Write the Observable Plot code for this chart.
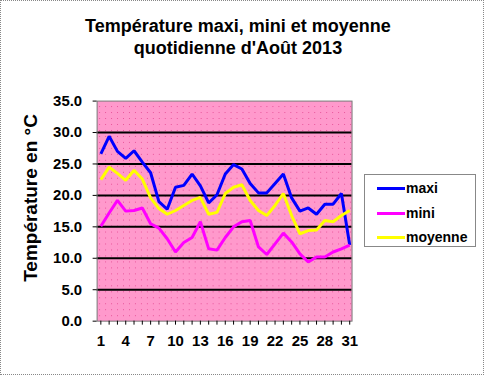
<!DOCTYPE html>
<html>
<head>
<meta charset="utf-8">
<script src="https://cdn.jsdelivr.net/npm/d3@7"></script>
<script src="https://cdn.jsdelivr.net/npm/@observablehq/plot@0.6"></script>
<style>
  html, body { margin: 0; padding: 0; background: #fff; }
  #wrap { position: relative; width: 484px; height: 375px; box-sizing: border-box; border: 1px dotted #888; overflow: hidden; font-family: "Liberation Sans", Arial, sans-serif; }
  #title { position: absolute; left: 0; width: 474px; top: 14px; text-align: center; font-weight: bold; font-size: 18px; line-height: 22px; color: #000; }
  #ylab { position: absolute; left: 30px; top: 197px; transform: translate(-50%, -50%) rotate(-90deg); white-space: nowrap; font-weight: bold; font-size: 19px; color: #000; }
  #legend { position: absolute; left: 363px; top: 173px; width: 112px; height: 73px; box-sizing: border-box; border: 1px solid #888; background: #fff; }
  .item { position: absolute; left: 12px; height: 14px; font-weight: bold; font-size: 14px; line-height: 14px; }
  .item span.sw { position: absolute; left: 0; top: 6px; width: 28px; height: 3px; }
  .item span.tx { position: absolute; left: 29px; top: 0; }
  #chart { position: absolute; left: 0; top: 0; }
</style>
</head>
<body>
<div id="wrap">
  <div id="chart"></div>
  <div id="title">Température maxi, mini et moyenne<br>quotidienne d'Août 2013</div>
  <div id="ylab">Température en °C</div>
  <div id="legend"></div>
</div>
<script>
const days = d3.range(1, 32);
const maxi = [26.6, 29.4, 27.0, 25.9, 27.1, 25.3, 23.6, 19.0, 17.8, 21.3, 21.6, 23.4, 21.5, 18.8, 20.1, 23.4, 24.9, 24.2, 21.9, 20.4, 20.4, 21.9, 23.4, 19.6, 17.5, 18.0, 17.0, 18.6, 18.6, 20.3, 12.1];
const mini = [15.1, 17.2, 19.2, 17.5, 17.6, 18.0, 15.5, 14.8, 13.1, 11.0, 12.5, 13.3, 15.8, 11.5, 11.3, 13.3, 15.0, 15.8, 16.0, 11.8, 10.6, 12.3, 14.0, 12.6, 10.7, 9.4, 10.2, 10.2, 11.0, 11.5, 12.1];
const moyenne = [22.5, 24.5, 23.5, 22.4, 24.0, 22.6, 19.6, 17.9, 17.0, 17.6, 18.4, 19.2, 19.7, 17.0, 17.3, 20.3, 21.3, 21.7, 19.2, 17.6, 16.8, 18.4, 20.3, 16.8, 13.9, 14.4, 14.5, 16.0, 15.8, 16.8, 17.6];
const seriesNames = ["maxi", "mini", "moyenne"];
const seriesColors = ["#0000FF", "#FF00FF", "#FFFF00"];
const yTicks = [0, 5, 10, 15, 20, 25, 30, 35];
const xLabelTicks = [1, 4, 7, 10, 13, 16, 19, 22, 25, 28, 31];

const rows = [];
[maxi, mini, moyenne].forEach((arr, s) => arr.forEach((v, i) => rows.push({day: days[i], value: v, serie: seriesNames[s]})));

const chart = Plot.plot({
  width: 484,
  height: 375,
  marginLeft: 96,
  marginRight: 132,
  marginTop: 100,
  marginBottom: 54,
  style: {fontFamily: "'Liberation Sans', Arial, sans-serif", fontWeight: "bold", fontSize: "15px", color: "#000", background: "transparent"},
  x: {domain: [0.55, 31.28], label: null},
  y: {domain: [0, 35], label: null},
  color: {domain: seriesNames, range: seriesColors},
  marks: [
    Plot.frame({fill: "url(#dots)", stroke: null}),
    Plot.gridY(yTicks.filter(t => t > 0 && t < 35), {stroke: "#000", strokeOpacity: 1, strokeWidth: 2}),
    Plot.line(rows, {x: "day", y: "value", z: "serie", stroke: "serie", strokeWidth: 3, strokeLinejoin: "miter", strokeLinecap: "butt"}),
    Plot.frame({stroke: "#777", strokeWidth: 1}),
    Plot.axisY({ticks: yTicks, tickFormat: d => d.toFixed(1), tickSize: 4, tickPadding: 11, fontSize: 15, fontWeight: "bold", label: null}),
    Plot.axisX({ticks: days, tickFormat: () => "", tickSize: 4, label: null}),
    Plot.axisX({ticks: xLabelTicks, tickFormat: d => String(d), tickSize: 0, tickPadding: 14, fontSize: 15, fontWeight: "bold", label: null})
  ]
});

// dotted pink pattern
const ns = "http://www.w3.org/2000/svg";
const defs = document.createElementNS(ns, "defs");
defs.innerHTML = '<pattern id="dots" width="6" height="6" patternUnits="userSpaceOnUse"><rect width="6" height="6" fill="#FF99CC"/><rect x="2" y="3" width="1" height="1" fill="#E8559B"/></pattern>';
chart.insertBefore(defs, chart.firstChild);
document.getElementById("chart").appendChild(chart);

const legend = document.getElementById("legend");
seriesNames.forEach((n, i) => {
  const it = document.createElement("div");
  it.className = "item";
  it.style.top = (6 + i * 24.5) + "px";
  it.innerHTML = `<span class="sw" style="background:${seriesColors[i]}"></span><span class="tx">${n}</span>`;
  legend.appendChild(it);
});
</script>
</body>
</html>
